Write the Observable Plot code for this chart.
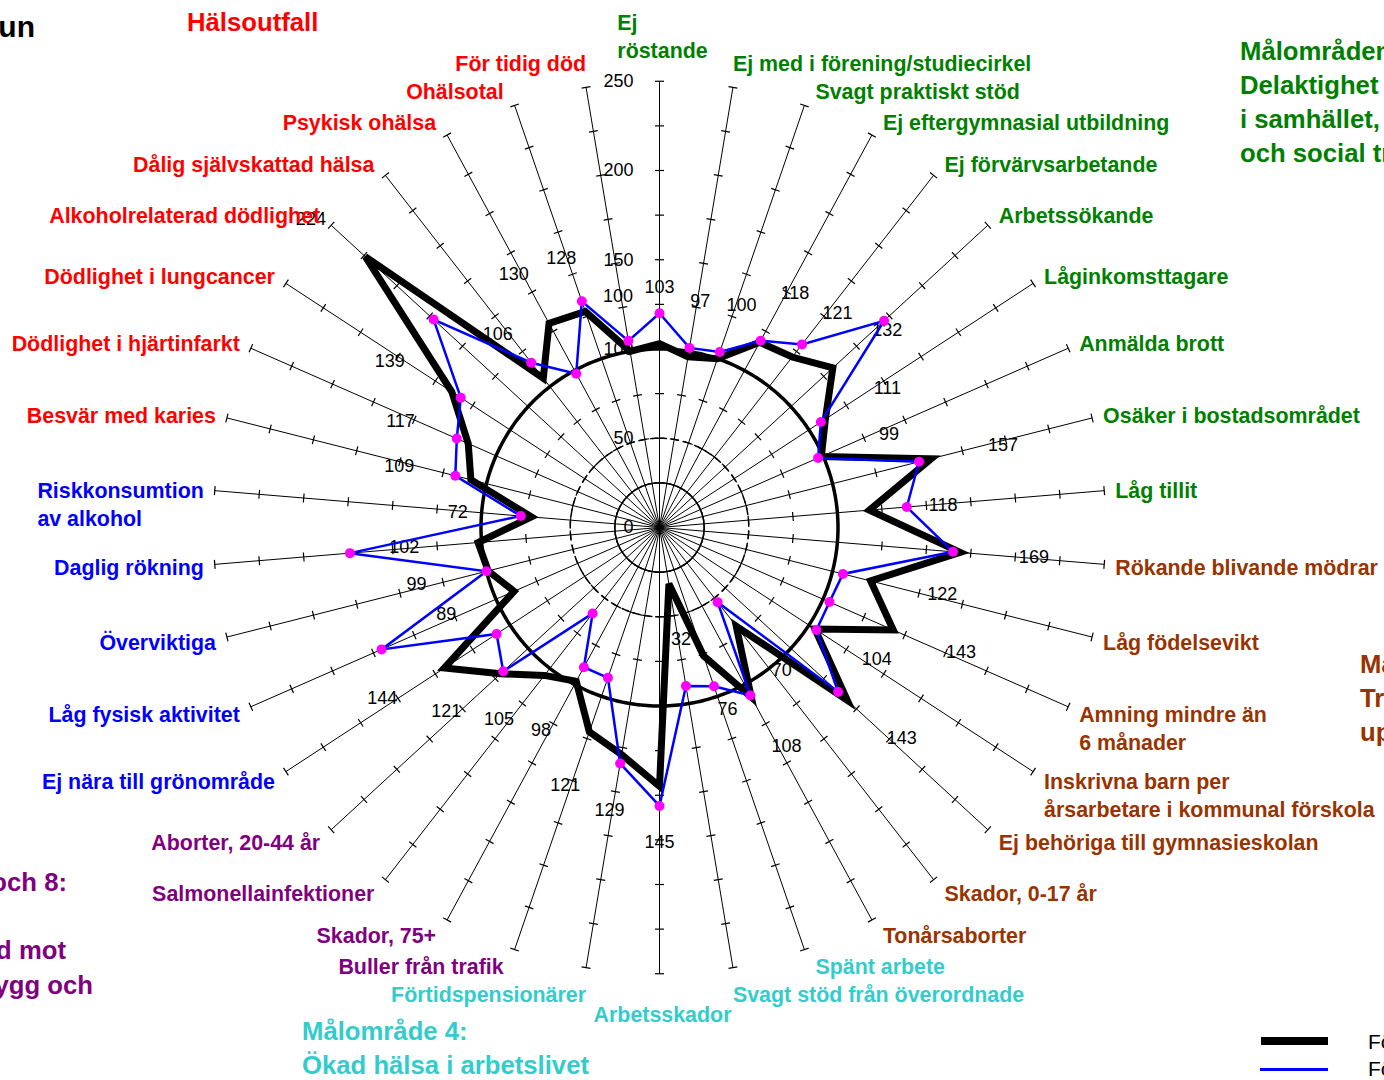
<!DOCTYPE html>
<html>
<head>
<meta charset="utf-8">
<script src="https://cdn.jsdelivr.net/npm/d3@7"></script>
<script src="https://cdn.jsdelivr.net/npm/@observablehq/plot@0.6"></script>
<style>
  html, body { margin: 0; padding: 0; background: #fff; }
  #wrap { position: relative; width: 1384px; height: 1080px; overflow: hidden; background: #fff;
          font-family: "Liberation Sans", Arial, sans-serif; }
  #chart { position: absolute; left: 0; top: 0; }
  .t { position: absolute; white-space: nowrap; font-weight: bold; font-size: 25.7px; line-height: 34px; }
  .lg { position: absolute; white-space: nowrap; font-size: 21px; line-height: 26px; color: #000; }
</style>
</head>
<body>
<div id="wrap">
  <div id="chart"></div>
  <div class="t" style="right:1349px; top:7px; font-size:30px; line-height:40px; color:#000;">kommun</div>
  <div class="t" style="left:187px; top:5px; color:#ff0000;">Hälsoutfall</div>
  <div class="t" style="left:1240px; top:34px; color:#008000;">Målområden 1 och 2:<br>Delaktighet och inflytande<br>i samhället, ekonomisk<br>och social trygghet</div>
  <div class="t" style="left:1360px; top:647px; color:#993300;">Målområde 3:<br>Trygga och goda<br>uppväxtvillkor</div>
  <div class="t" style="right:1317px; top:865px; color:#800080;">Målområden 7 och 8:</div>
  <div class="t" style="right:1318px; top:933px; color:#800080;">Skydd mot</div>
  <div class="t" style="right:1291px; top:968px; color:#800080;">Trygg och</div>
  <div class="t" style="left:302px; top:1014px; color:#33cccc;">Målområde 4:<br>Ökad hälsa i arbetslivet</div>
  <div style="position:absolute; left:1261px; top:1037px; width:67px; height:8px; background:#000;"></div>
  <div style="position:absolute; left:1260px; top:1068px; width:68px; height:2.5px; background:#0000ff;"></div>
  <div class="lg" style="left:1368px; top:1029px;">Förra perioden</div>
  <div class="lg" style="left:1368px; top:1056px;">Föregående period</div>
</div>
<script>
// ---------- data ----------
const categories = [
  "Ej\nröstande",
  "Ej med i förening/studiecirkel",
  "Svagt praktiskt stöd",
  "Ej eftergymnasial utbildning",
  "Ej förvärvsarbetande",
  "Arbetssökande",
  "Låginkomsttagare",
  "Anmälda brott",
  "Osäker i bostadsområdet",
  "Låg tillit",
  "Rökande blivande mödrar",
  "Låg födelsevikt",
  "Amning mindre än\n6 månader",
  "Inskrivna barn per\nårsarbetare i kommunal förskola",
  "Ej behöriga till gymnasieskolan",
  "Skador, 0-17 år",
  "Tonårsaborter",
  "Spänt arbete",
  "Svagt stöd från överordnade",
  "Arbetsskador",
  "Förtidspensionärer",
  "Buller från trafik",
  "Skador, 75+",
  "Salmonellainfektioner",
  "Aborter, 20-44 år",
  "Ej nära till grönområde",
  "Låg fysisk aktivitet",
  "Överviktiga",
  "Daglig rökning",
  "Riskkonsumtion\nav alkohol",
  "Besvär med karies",
  "Dödlighet i hjärtinfarkt",
  "Dödlighet i lungcancer",
  "Alkoholrelaterad dödlighet",
  "Dålig självskattad hälsa",
  "Psykisk ohälsa",
  "Ohälsotal",
  "För tidig död"
];
const categoryGroup = [
  "delaktighet","delaktighet","delaktighet","delaktighet","delaktighet",
  "delaktighet","delaktighet","delaktighet","delaktighet","delaktighet",
  "uppvaxt","uppvaxt","uppvaxt","uppvaxt","uppvaxt","uppvaxt","uppvaxt",
  "arbetsliv","arbetsliv","arbetsliv","arbetsliv",
  "miljo","miljo","miljo","miljo",
  "levnadsvanor","levnadsvanor","levnadsvanor","levnadsvanor","levnadsvanor",
  "halsoutfall","halsoutfall","halsoutfall","halsoutfall","halsoutfall","halsoutfall","halsoutfall","halsoutfall"
];
// thick black series (values also printed as labels)
const seriesBlack = [103,97,100,118,121,132,111,99,157,118,169,122,143,104,143,70,108,76,32,145,
                     129,121,98,105,121,144,89,99,102,72,109,117,139,224,106,130,128,100];
// thin blue series with magenta markers
const seriesBlue = [120,102,104,119,130,171,108,97,150,139,165,106,104,105,136,53,107,94,90,156,
                    134,89,89,61,119,109,170,100,174,78,118,124,133,172,117,98,134,106];
const scaleTicks = [0,50,100,150,200,250];
const gridRings = [25,50,100];
const axisMax = 250;
const tickStep = 25;

// ---------- styles / layout ----------
const groupColor = {
  delaktighet: "#008000", uppvaxt: "#993300", arbetsliv: "#33cccc",
  miljo: "#800080", levnadsvanor: "#0000ff", halsoutfall: "#ff0000"
};
const FONT = "Liberation Sans, Arial, sans-serif";
const CAT_FS = 21.4;
const W = 1384, H = 1080, CX = 659, CY = 527, PPU = 1.785;
const N = categories.length;
const ang = i => i * 2 * Math.PI / N;
const pol = (i, r) => ({x: r * Math.sin(ang(i)), y: r * Math.cos(ang(i))});
const toPx = p => ({px: CX + p.x * PPU, py: CY - p.y * PPU});
const toU = (px, py) => ({x: (px - CX) / PPU, y: (CY - py) / PPU});

const ctx = document.createElement("canvas").getContext("2d");
ctx.font = `bold ${CAT_FS}px ${FONT}`;
const measure = s => ctx.measureText(s).width;

// rings
const ringPts = r => d3.range(0, 361, 1).map(a => ({x: r * Math.sin(a * Math.PI / 180), y: r * Math.cos(a * Math.PI / 180)}));

// axes
const axes = categories.map((c, i) => ({...pol(i, axisMax)}));
// ticks
const tickData = [];
categories.forEach((c, i) => {
  const a = ang(i), h = 4.5 / PPU;
  for (let t = tickStep; t <= axisMax; t += tickStep) {
    const p = pol(i, t);
    tickData.push({x1: p.x - h * Math.cos(a), y1: p.y + h * Math.sin(a),
                   x2: p.x + h * Math.cos(a), y2: p.y - h * Math.sin(a)});
  }
});

// series points
const blackPts = seriesBlack.map((v, i) => pol(i, v));
const bluePts = seriesBlue.map((v, i) => pol(i, v));

// value labels (black series values)
const valueLabels = seriesBlack.map((v, i) => {
  const p = pol(i, v), a = ang(i);
  return {x: p.x + 74 * Math.sin(a) / PPU, y: p.y + 56 * Math.cos(a) / PPU, text: String(v)};
});

// category labels
const catLabels = categories.map((name, i) => {
  const a = ang(i), s = Math.sin(a), c = Math.cos(a);
  const {px: ex, py: ey} = toPx(pol(i, axisMax));
  const lines = name.split("\n");
  const w = Math.max(...lines.map(measure));
  let xs, yc;
  if (Math.abs(s) < 0.01) {
    xs = ex + 3 - w / 2;
    yc = ey - c * 39 - (lines.length - 1) * 7;
  } else {
    const near = Math.abs(c) > 0.97;
    const dxp = near ? 0 : 11;
    const yFirst = ey - c * (near ? 26 : 16);
    xs = s > 0 ? ex + dxp : ex - dxp - w;
    yc = yFirst + (lines.length - 1) * 14;
  }
  const u = toU(xs, yc);
  return {x: u.x, y: u.y, text: name, color: groupColor[categoryGroup[i]]};
});

const chart = Plot.plot({
  width: W, height: H, margin: 0,
  style: {fontFamily: FONT, background: "transparent", overflow: "visible"},
  x: {domain: [-CX / PPU, (W - CX) / PPU], axis: null},
  y: {domain: [(CY - H) / PPU, CY / PPU], axis: null},
  color: {type: "identity"},
  marks: [
    Plot.line(ringPts(gridRings[0]), {x: "x", y: "y", stroke: "#000", strokeWidth: 1.5}),
    Plot.line(ringPts(gridRings[1]), {x: "x", y: "y", stroke: "#000", strokeWidth: 1.5, strokeDasharray: "7,5"}),
    Plot.line(ringPts(gridRings[2]), {x: "x", y: "y", stroke: "#000", strokeWidth: 3.5}),
    Plot.link(axes, {x1: 0, y1: 0, x2: "x", y2: "y", stroke: "#000", strokeWidth: 1}),
    Plot.link(tickData, {x1: "x1", y1: "y1", x2: "x2", y2: "y2", stroke: "#000", strokeWidth: 1.2}),
    Plot.text(scaleTicks, {x: 0, y: d => d, text: d => String(d), dx: -26, textAnchor: "end",
      fontSize: 18, fill: "#000"}),
    Plot.text(valueLabels, {x: "x", y: "y", text: "text", textAnchor: "middle", fontSize: 18, fill: "#000"}),
    Plot.text(catLabels, {x: "x", y: "y", text: "text", fill: "color", textAnchor: "start",
      fontSize: CAT_FS, fontWeight: "bold", lineHeight: 28 / CAT_FS}),
    Plot.line(blackPts, {x: "x", y: "y", stroke: "#000", strokeWidth: 7, curve: "linear-closed",
      strokeLinejoin: "miter", strokeMiterlimit: 4}),
    Plot.line(bluePts, {x: "x", y: "y", stroke: "#0000ff", strokeWidth: 2.5, curve: "linear-closed",
      strokeLinejoin: "miter", strokeMiterlimit: 4}),
    Plot.dot(bluePts, {x: "x", y: "y", r: 5, fill: "#ff00ff", stroke: "none"})
  ]
});
document.getElementById("chart").appendChild(chart);
</script>
</body>
</html>
